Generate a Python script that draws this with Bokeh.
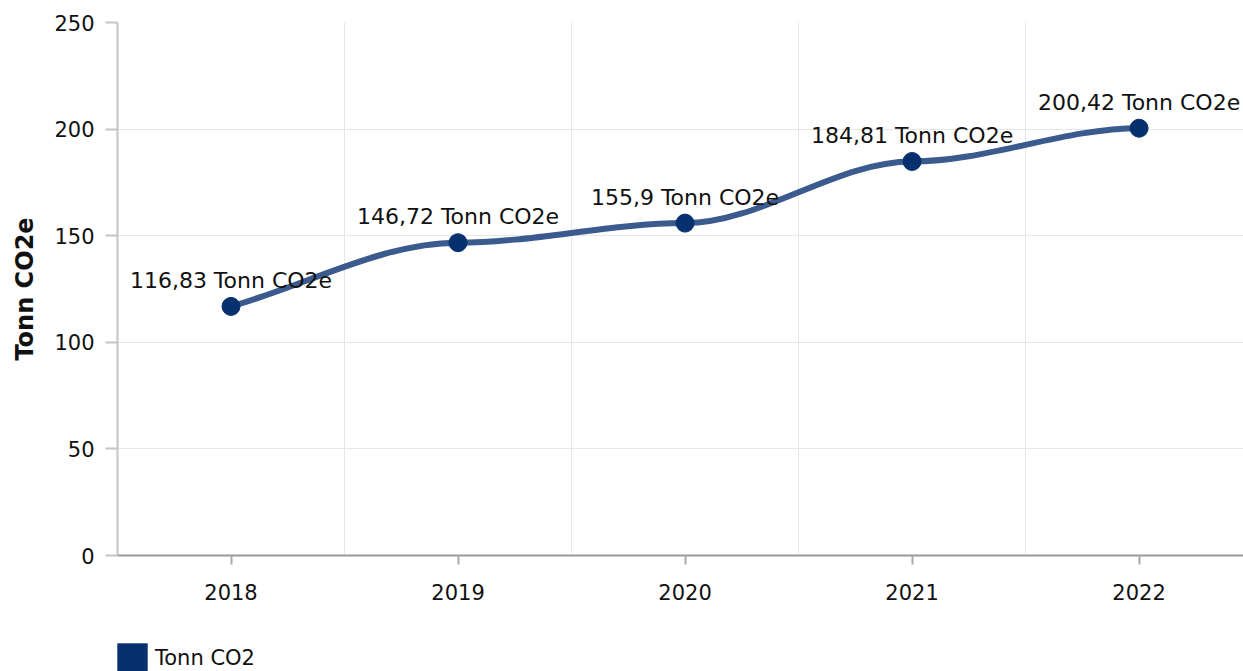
from bokeh.plotting import figure
from bokeh.layouts import column
from bokeh.models import Range1d, FixedTicker, ColumnDataSource, Legend, LegendItem
from bokeh.embed import file_html
from bokeh.resources import INLINE
from bokeh.core.properties import value

# ---- data ----
years = ["2018", "2019", "2020", "2021", "2022"]
emissions = [116.83, 146.72, 155.9, 184.81, 200.42]
unit = "Tonn CO2e"
series_name = "Tonn CO2"
y_axis_title = "Tonn CO2e"
y_ticks = [0, 50, 100, 150, 200, 250]

FONT = "DejaVu Sans"
LINE_COLOR = "#3b5a8d"
POINT_COLOR = "#06306e"

xs = list(range(len(years)))


def smooth_segments(xv, yv):
    """Cubic segments, flat tangents at the inner points, chord tangent at the start."""
    n = len(xv)
    tang = [0.0] * n
    tang[0] = (yv[1] - yv[0]) / (xv[1] - xv[0])
    seg = dict(x0=[], y0=[], x1=[], y1=[], cx0=[], cy0=[], cx1=[], cy1=[])
    for i in range(1, n):
        h = (xv[i] - xv[i - 1]) / 3.0
        seg["x0"].append(xv[i - 1]); seg["y0"].append(yv[i - 1])
        seg["cx0"].append(xv[i - 1] + h); seg["cy0"].append(yv[i - 1] + h * tang[i - 1])
        seg["cx1"].append(xv[i] - h); seg["cy1"].append(yv[i] - h * tang[i])
        seg["x1"].append(xv[i]); seg["y1"].append(yv[i])
    return seg


p = figure(width=1243, height=630, output_backend="svg", toolbar_location=None,
           x_range=Range1d(-0.5, 4.46), y_range=Range1d(0, 250),
           min_border_left=117, min_border_right=0, min_border_top=22, min_border_bottom=75)
p.outline_line_color = None
p.background_fill_color = "white"
p.border_fill_color = "white"

# grids
p.ygrid.ticker = FixedTicker(ticks=y_ticks)
p.ygrid.grid_line_color = "#e6e6e6"
p.xgrid.ticker = FixedTicker(ticks=[i + 0.5 for i in xs[:-1]])
p.xgrid.grid_line_color = "#e6e6e6"

# y axis
ya = p.yaxis[0]
ya.ticker = FixedTicker(ticks=y_ticks)
ya.axis_line_color = "#c4c4c4"
ya.axis_line_width = 2
ya.major_tick_line_color = "#c4c4c4"
ya.major_tick_line_width = 2
ya.major_tick_out = 12
ya.major_tick_in = 0
ya.minor_tick_line_color = None
ya.major_label_text_font = FONT
ya.major_label_text_font_size = "21px"
ya.major_label_text_color = "#111111"
ya.major_label_standoff = 11
ya.axis_label = y_axis_title
ya.axis_label_text_font = FONT
ya.axis_label_text_font_style = "bold"
ya.axis_label_text_font_size = "24px"
ya.axis_label_text_color = "#111111"
ya.axis_label_standoff = 12

# x axis
xa = p.xaxis[0]
xa.ticker = FixedTicker(ticks=xs)
xa.major_label_overrides = {i: y for i, y in zip(xs, years)}
xa.axis_line_color = "#999999"
xa.axis_line_width = 2
xa.major_tick_line_color = "#aaaaaa"
xa.major_tick_line_width = 2
xa.major_tick_out = 9
xa.major_tick_in = 0
xa.minor_tick_line_color = None
xa.major_label_text_font = FONT
xa.major_label_text_font_size = "21px"
xa.major_label_text_color = "#111111"
xa.major_label_standoff = 19

# smooth line
seg = smooth_segments(xs, emissions)
p.bezier(source=ColumnDataSource(seg), x0="x0", y0="y0", x1="x1", y1="y1",
         cx0="cx0", cy0="cy0", cx1="cx1", cy1="cy1",
         line_color=LINE_COLOR, line_width=6, line_cap="round")

# points and labels
pts = ColumnDataSource(dict(x=xs, y=emissions,
                            label=[f"{v:g}".replace(".", ",") + " " + unit for v in emissions]))
p.scatter("x", "y", source=pts, size=18, fill_color=POINT_COLOR, line_color=POINT_COLOR)
p.text("x", "y", text="label", source=pts, text_align="center", text_baseline="alphabetic",
       y_offset=-26, text_font=value(FONT), text_font_size="22px", text_color="#111111")

# legend strip (its frame is aligned with the main plot frame)
lg = figure(width=1243, height=41, output_backend="svg", toolbar_location=None,
            x_axis_type=None, y_axis_type=None, x_range=Range1d(0, 1), y_range=Range1d(0, 1),
            min_border_left=0, min_border_right=0, min_border_top=0, min_border_bottom=0)
lg.outline_line_color = None
lg.xgrid.visible = False
lg.ygrid.visible = False
nan = float("nan")
dummy = lg.quad(left=[nan], right=[nan], top=[nan], bottom=[nan],
                fill_color=POINT_COLOR, line_color=None)
legend = Legend(items=[LegendItem(label=series_name, renderers=[dummy])],
                location=(-4, -6), padding=0, margin=0, spacing=0,
                glyph_width=38, glyph_height=38, label_standoff=4,
                label_text_font=FONT, label_text_font_size="21px", label_text_color="#111111",
                border_line_color=None, background_fill_alpha=0)
lg.add_layout(legend, "center")

open("out.html", "w").write(file_html(column(p, lg, spacing=0), INLINE))
